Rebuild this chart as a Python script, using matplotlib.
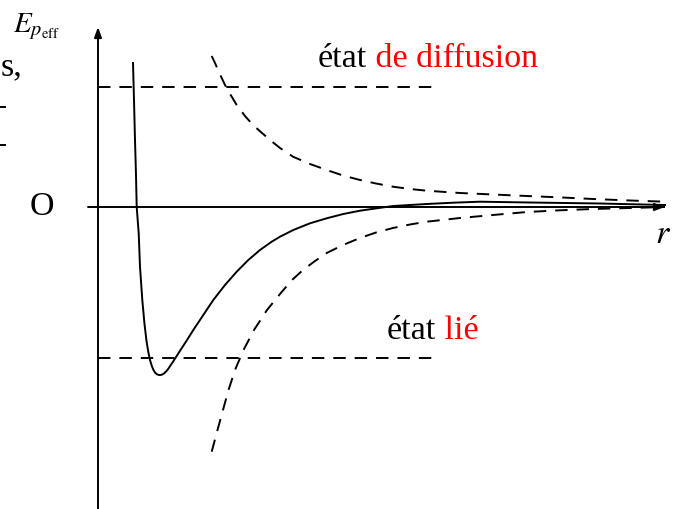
import matplotlib
matplotlib.use("Agg")
import matplotlib.pyplot as plt

plt.rcParams["font.family"] = ["Liberation Serif", "DejaVu Serif"]
plt.rcParams["mathtext.fontset"] = "stix"

# Effective potential energy E_p_eff(r) (solid curve)
r_eff = [35, 36, 37, 38, 38.7, 40.7, 42, 44.3, 46.5, 48.5, 50.3, 52, 53.8,
         55.5, 57.2, 59, 60.8, 62.5, 64.3, 66.2, 68.2, 70.5, 73, 75.8, 78.7,
         82, 88.7, 95.3, 105.3, 115.3, 127, 138.7, 150.3, 162, 173.7, 182,
         195.3, 212, 228.7, 245.3, 262, 278.7, 295.3, 312, 328.7, 355, 382,
         432, 502, 567]
E_eff = [144, 107, 67, 32, 0, -26.3, -59.7, -93, -117, -134, -145, -153,
         -159, -163, -165.8, -167.3, -168, -168, -167.5, -166.3, -164.4,
         -161.5, -157.7, -153.5, -149, -143.8, -133.5, -123, -108, -93, -78,
         -64.7, -53, -43, -34.7, -29.7, -23, -16.3, -11.3, -7, -3.7, -1.3, 1,
         2, 3, 4.3, 5.3, 4.5, 3.5, 2]

# Repulsive (centrifugal) term, dashed above the axis
r_rep = [113.7, 117, 120, 123.5, 127, 132.7, 138.7, 147, 155, 164, 172, 182,
         195, 212, 228.7, 245, 262, 278, 295, 312, 328.7, 362, 395, 429, 462,
         495, 532, 567]
E_rep = [151, 144, 137, 129.5, 122, 112, 102, 91, 82, 74, 67, 59, 50.3, 43,
         37, 31.5, 27, 23.5, 20.3, 18, 16.3, 14, 12.5, 11, 9.6, 8, 6.5, 5.3]

# Attractive term, dashed below the axis
r_att = [113.7, 119.5, 125, 130.5, 137, 145.5, 156, 169, 182, 194, 205, 217,
         228.7, 245, 262, 278, 295, 312, 328.7, 362, 395, 429, 462, 495, 532,
         567]
E_att = [-244.7, -223, -203, -183, -163, -143, -123, -103, -87, -73, -63,
         -54, -46, -38, -31, -25.5, -21, -17.5, -14.7, -11, -8, -5, -3.3, -2,
         -1, 0]

# Energy levels of the two kinds of states
E_scatter = 120
E_bound = -151
r_level_end = 342

fig = plt.figure(figsize=(6.8, 5.09), dpi=100)
ax = fig.add_axes([0, 0, 1, 1])
ax.set_xlim(-98, 582)
ax.set_ylim(-302, 207)
ax.axis("off")

lw = 1.4
dash = (0, (6.4, 4.6))

# Axes with arrow heads
arrow = dict(arrowstyle="-|>,head_length=0.6,head_width=0.22", lw=lw,
             color="black", shrinkA=0, shrinkB=0, mutation_scale=10)
ax.annotate("", xy=(567, 0), xytext=(-10, 0), arrowprops=arrow)
ax.annotate("", xy=(0, 180), xytext=(0, -302), arrowprops=arrow)

# Curves
ax.plot(r_eff, E_eff, color="black", lw=lw, solid_joinstyle="round")
ax.plot(r_rep, E_rep, color="black", lw=lw, linestyle=dash)
ax.plot(r_att, E_att, color="black", lw=lw, linestyle=dash)

# Energy levels
ax.plot([0, r_level_end], [E_scatter, E_scatter], color="black", lw=lw,
        linestyle=dash)
ax.plot([0, r_level_end], [E_bound, E_bound], color="black", lw=lw,
        linestyle=dash)

fs = 24.5
ax.text(-56.5, 0, "O", ha="center", va="center", fontsize=fs)
ax.text(565, -36, "$r$", ha="center", va="baseline", fontsize=fs)
ax.text(-85, 175, r"$E_{p_{\mathrm{eff}}}$", ha="left", va="baseline",
        fontsize=21)

t1 = ax.text(220, 139.7, "état", ha="left", va="baseline", fontsize=fs,
             color="black")
ax.annotate(" de diffusion", xy=(1, 0), xycoords=t1, ha="left",
            va="bottom", fontsize=fs, color="red")
t2 = ax.text(289, -132, "état", ha="left", va="baseline", fontsize=fs,
             color="black")
ax.annotate(" lié", xy=(1, 0), xycoords=t2, ha="left", va="bottom",
            fontsize=fs, color="red")

# Fragments at the left margin
ax.text(-76, 132, "s,", ha="right", va="baseline", fontsize=fs)
ax.plot([-98, -93], [100, 100], color="black", lw=lw)
ax.plot([-98, -93], [62, 62], color="black", lw=lw)

fig.savefig("out.png", dpi=100)
